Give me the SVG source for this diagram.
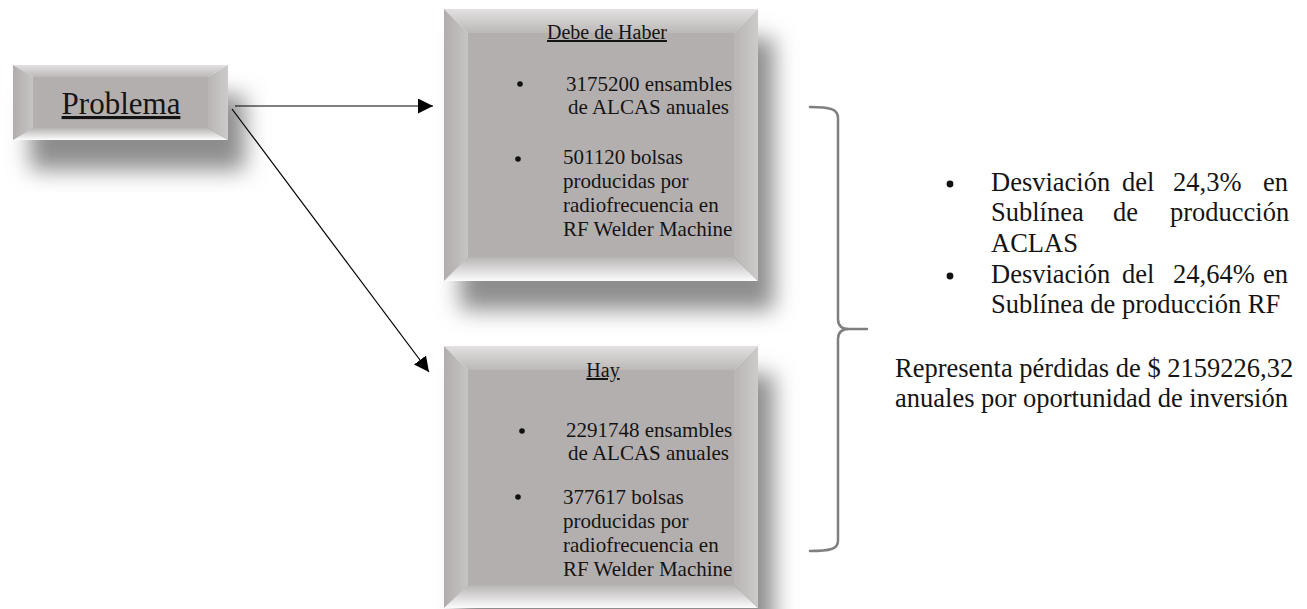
<svg xmlns="http://www.w3.org/2000/svg" width="1307" height="609" viewBox="0 0 1307 609">
  <style>
    text { font-family: "Liberation Serif", "Times New Roman", serif; fill: #141414; }
    .box-text { font-size: 21px; }
    .title { font-size: 20px; text-anchor: middle; text-decoration: underline; }
    .side { font-size: 26.5px; }
    .dot { fill: #111; }
    .face { fill: #b4afaf; }
    .bevel-top { fill: url(#gTop); }
    .bevel-bottom { fill: url(#gBottom); }
    .bevel-left { fill: url(#gLeft); }
    .bevel-right { fill: url(#gRight); }
    .shadow { fill: #8d8d8d; filter: url(#soft); }
    .conn { stroke: #000; stroke-width: 1.2; fill: none; }
    .brace { stroke: #7f7f7f; stroke-width: 2.5; fill: none; stroke-linecap: round; }
  </style>
  <defs>
    <filter id="soft" x="-30%" y="-30%" width="160%" height="160%">
      <feGaussianBlur stdDeviation="11"/>
    </filter>
    <linearGradient id="gTop" x1="0" y1="0" x2="0" y2="1">
      <stop offset="0" stop-color="#e2e0e0"/>
      <stop offset="1" stop-color="#bcb8b8"/>
    </linearGradient>
    <linearGradient id="gBottom" x1="0" y1="0" x2="0" y2="1">
      <stop offset="0" stop-color="#b8b4b4"/>
      <stop offset="1" stop-color="#fcfcfc"/>
    </linearGradient>
    <linearGradient id="gLeft" x1="0" y1="0" x2="1" y2="0">
      <stop offset="0" stop-color="#b2adad"/>
      <stop offset="1" stop-color="#c7c4c4"/>
    </linearGradient>
    <linearGradient id="gRight" x1="0" y1="0" x2="1" y2="0">
      <stop offset="0" stop-color="#b9b5b5"/>
      <stop offset="1" stop-color="#cdcaca"/>
    </linearGradient>
    <marker id="arrow" markerUnits="userSpaceOnUse" markerWidth="16" markerHeight="16" refX="15" refY="7.5" orient="auto">
      <path d="M0,0 L15,7.5 L0,15 Z" fill="#000"/>
    </marker>
  </defs>

  <!-- soft drop shadows behind the bevelled boxes -->
  <g id="shadows">
    <rect class="shadow" x="30" y="95" width="215" height="75"/>
    <rect class="shadow" x="460" y="38" width="314" height="272"/>
    <rect class="shadow" x="460" y="374" width="314" height="262"/>
  </g>

  <g id="problema">
    <polygon class="bevel-top" points="13,65 228,65 208,77 33,77"/>
    <polygon class="bevel-bottom" points="13,140 228,140 208,128 33,128"/>
    <polygon class="bevel-left" points="13,65 33,77 33,128 13,140"/>
    <polygon class="bevel-right" points="228,65 208,77 208,128 228,140"/>
    <rect class="face" x="33" y="77" width="175" height="51"/>
    <text x="121" y="114" font-size="31" text-anchor="middle" text-decoration="underline">Problema</text>
  </g>

  <g id="debe-de-haber">
    <polygon class="bevel-top" points="444,9 758,9 734,33 468,33"/>
    <polygon class="bevel-bottom" points="444,281 758,281 734,257 468,257"/>
    <polygon class="bevel-left" points="444,9 468,33 468,257 444,281"/>
    <polygon class="bevel-right" points="758,9 734,33 734,257 758,281"/>
    <rect class="face" x="468" y="33" width="266" height="224"/>
    <text class="title" x="607" y="39">Debe de Haber</text>
    <circle class="dot" cx="520" cy="84" r="2.8"/>
    <text class="box-text" x="566" y="91">3175200 ensambles</text>
    <text class="box-text" x="568" y="114">de ALCAS anuales</text>
    <circle class="dot" cx="518" cy="159" r="2.8"/>
    <text class="box-text" x="563" y="164">501120 bolsas</text>
    <text class="box-text" x="563" y="188">producidas por</text>
    <text class="box-text" x="563" y="212">radiofrecuencia en</text>
    <text class="box-text" x="563" y="236">RF Welder Machine</text>
  </g>

  <g id="hay">
    <polygon class="bevel-top" points="444,346 758,346 734,370 468,370"/>
    <polygon class="bevel-bottom" points="444,608 758,608 734,585 468,585"/>
    <polygon class="bevel-left" points="444,346 468,370 468,585 444,608"/>
    <polygon class="bevel-right" points="758,346 734,370 734,585 758,608"/>
    <rect class="face" x="468" y="370" width="266" height="215"/>
    <text class="title" x="603" y="377">Hay</text>
    <circle class="dot" cx="522" cy="431" r="2.8"/>
    <text class="box-text" x="566" y="437">2291748 ensambles</text>
    <text class="box-text" x="568" y="460">de ALCAS anuales</text>
    <circle class="dot" cx="518" cy="497" r="2.8"/>
    <text class="box-text" x="563" y="504">377617 bolsas</text>
    <text class="box-text" x="563" y="528">producidas por</text>
    <text class="box-text" x="563" y="552">radiofrecuencia en</text>
    <text class="box-text" x="563" y="576">RF Welder Machine</text>
  </g>

  <g id="connectors">
    <line class="conn" x1="235" y1="106" x2="433" y2="106" marker-end="url(#arrow)"/>
    <line class="conn" x1="232" y1="109" x2="429" y2="372" marker-end="url(#arrow)"/>
    <path class="brace" d="M810,107 C830,107 838,109 838,118 L838,319 C838,326 842,329 849,329 L867,329 M849,329 C842,329 838,332 838,339 L838,541 C838,549 830,551 810,551"/>
  </g>

  <g id="resultado">
    <circle class="dot" cx="950" cy="184" r="3.4"/>
    <text class="side" y="191"><tspan x="991">Desviación</tspan><tspan x="1122">del</tspan><tspan x="1173">24,3%</tspan><tspan x="1263">en</tspan></text>
    <text class="side" y="221"><tspan x="991">Sublínea</tspan><tspan x="1113">de</tspan><tspan x="1170">producción</tspan></text>
    <text class="side" x="991" y="252">ACLAS</text>
    <circle class="dot" cx="950" cy="276" r="3.4"/>
    <text class="side" y="283"><tspan x="991">Desviación</tspan><tspan x="1122">del</tspan><tspan x="1173">24,64%</tspan><tspan x="1263">en</tspan></text>
    <text class="side" x="991" y="313">Sublínea de producción RF</text>
    <text class="side" x="895" y="377">Representa pérdidas de $ 2159226,32</text>
    <text class="side" x="895" y="407">anuales por oportunidad de inversión</text>
  </g>
</svg>
